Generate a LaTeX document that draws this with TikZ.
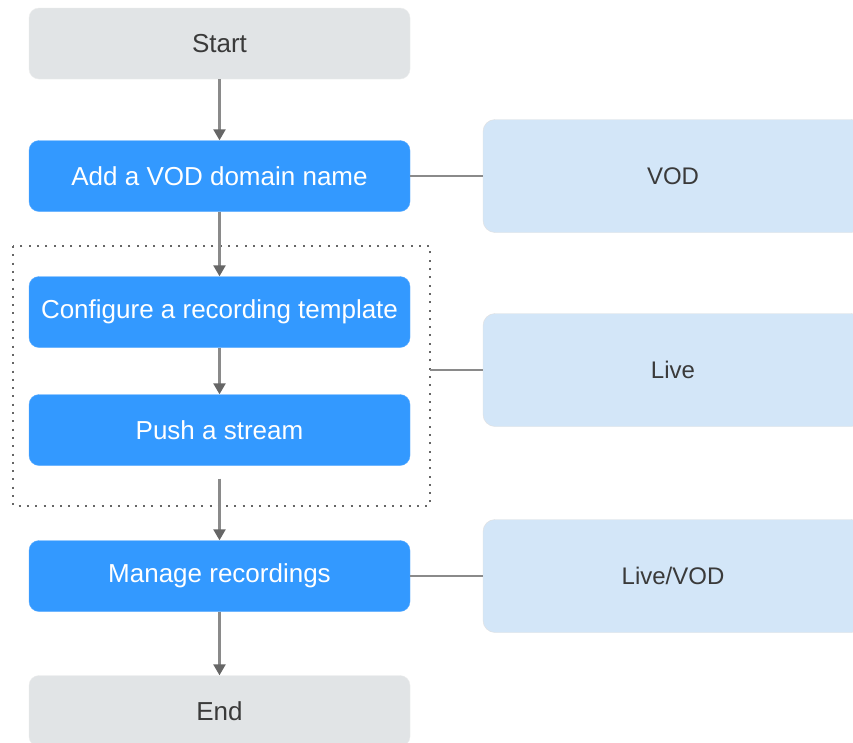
\documentclass[tikz,border=0pt]{standalone}
\usepackage{fontspec}
\setmainfont{Liberation Sans}
\usetikzlibrary{arrows.meta}
\definecolor{stepblue}{HTML}{3399FF}
\definecolor{termgray}{HTML}{E1E4E6}
\definecolor{sidebox}{HTML}{D3E6F8}
\definecolor{linegray}{HTML}{8A8A8A}
\definecolor{tipgray}{HTML}{666666}
\definecolor{textgray}{HTML}{3A3A3A}
\tikzset{
  box/.style={rounded corners=10pt, minimum width=381pt, minimum height=71pt,
    inner sep=0pt, font=\fontsize{26}{31}\selectfont},
  terminal/.style={box, fill=termgray, draw=termgray!70!black!20, text=textgray},
  stepbox/.style={box, fill=stepblue, draw=stepblue!80!white, text=white},
  platform/.style={rounded corners=12pt, minimum width=380pt, minimum height=113pt,
    inner sep=0pt, fill=sidebox, draw=black!12, text=textgray,
    font=\fontsize{24}{29}\selectfont},
  flow/.style={draw=linegray, line width=2.4pt,
    -{Triangle[width=12pt,length=11pt,color=tipgray]}},
  link/.style={draw=linegray, line width=2.4pt},
  group/.style={draw=tipgray, line width=2pt, dash pattern=on 2pt off 6.3pt}
}
\begin{document}
\begin{tikzpicture}[x=1pt,y=-1pt]
\useasboundingbox (0,0) rectangle (853,742);
\clip (0,0) rectangle (853,742);
\fill[white] (0,0) rectangle (853,742);

% main flow
\node[terminal] (start)  at (219.5,43.5) {Start};
\node[stepbox]  (domain) at (219.5,176)  {Add a VOD domain name};
\node[stepbox]  (tmpl)   at (219.5,312)  {Configure a recording template};
\node[stepbox]  (push)   at (219.5,430)  {Push a stream};
\node[stepbox]  (manage) at (219.5,576)  {Manage recordings};
\node[terminal] (finish) at (219.5,711)  {End};

% services
\node[platform] (vod)     at (673,176) {VOD};
\node[platform] (live)    at (673,370) {Live};
\node[platform] (livevod) at (673,576) {Live/VOD};

% live group frame
\draw[group] (13,246) rectangle (430,506);
\coordinate (grp) at (430,370);

% arrows
\draw[flow] (start) -- (domain);
\draw[flow] (domain) -- (tmpl);
\draw[flow] (tmpl) -- (push);
\draw[flow, shorten <=13pt] (push) -- (manage);
\draw[flow] (manage) -- (finish);

% service links
\draw[link] (domain) -- (vod);
\draw[link] (grp) -- (live);
\draw[link] (manage) -- (livevod);
\end{tikzpicture}
\end{document}
